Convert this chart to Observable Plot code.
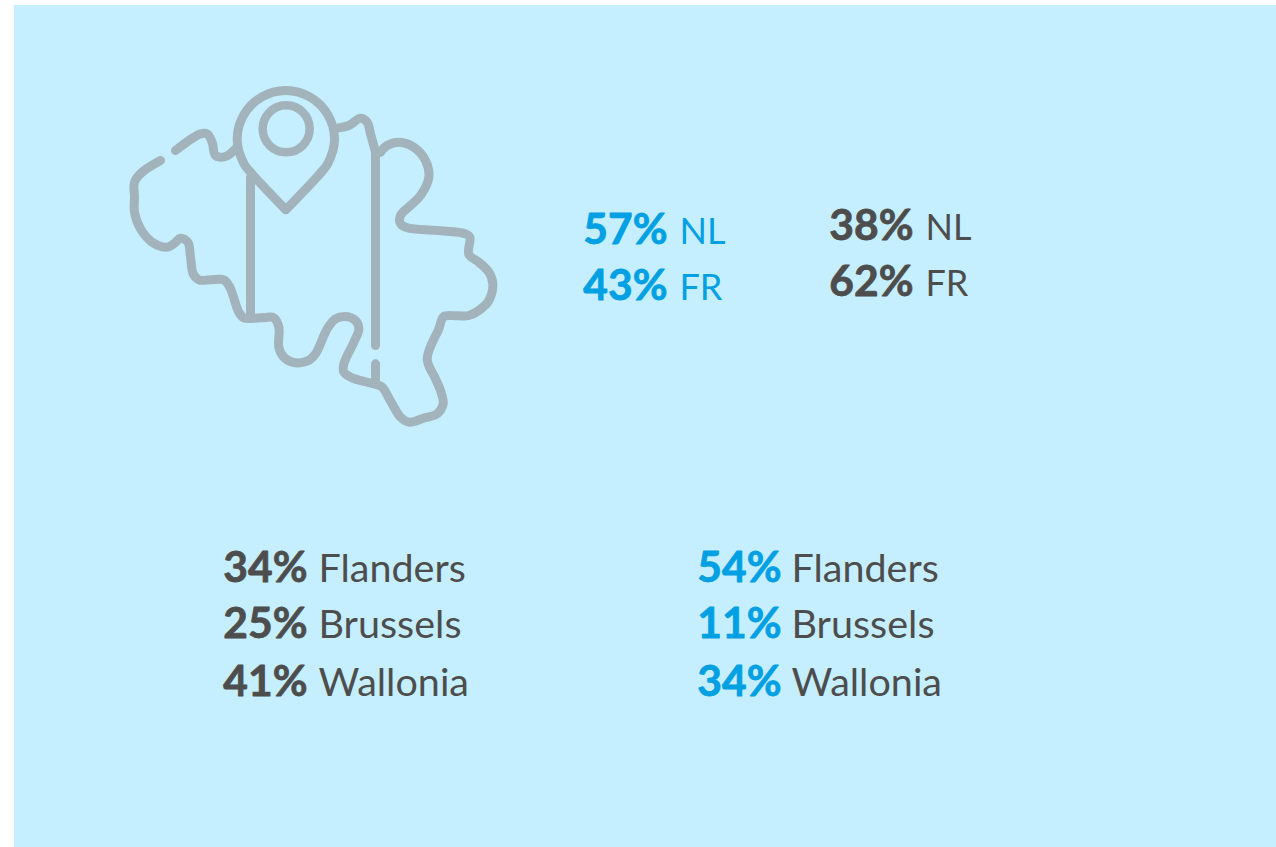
<!DOCTYPE html>
<html>
<head>
<meta charset="utf-8">
<style>html,body{margin:0;padding:0;background:#fff;overflow:hidden}svg{display:block}</style>
<script src="https://cdn.jsdelivr.net/npm/d3@7"></script>
<script src="https://cdn.jsdelivr.net/npm/@observablehq/plot@0.6"></script>
</head>
<body>
<div id="chart"></div>
<script>
// Shares
const languageLabels = ["NL", "FR"];
const languageBlue = ["57%", "43%"];
const languageGrey = ["38%", "62%"];
const regionLabels = ["Flanders", "Brussels", "Wallonia"];
const regionGrey = ["34%", "25%", "41%"];
const regionBlue = ["54%", "11%", "34%"];

// Belgium pictogram, traced in a 1200x1110 frame
const coastWest = [[150,270],[95,305],[72,335],[72,380],[72,425],[90,475],[125,515],[170,530],[190,520],[210,503],[232,515],[240,560],[248,610],[265,628],[300,628],[340,628],[358,650],[385,725],[400,742],[450,742],[490,742],[505,770],[505,830],[520,860],[545,875],[590,872],[615,850],[650,775],[675,745],[705,738],[735,750],[745,775],[730,815],[700,880],[700,905],[725,922],[762,933],[800,943],[815,950],[842,995],[870,1040],[895,1055],[940,1043],[980,1030],[998,1000],[990,960],[975,925],[950,865],[985,775],[1000,738],[1040,736],[1075,735],[1105,720],[1135,690],[1147,640],[1135,605],[1105,575],[1075,552],[1078,500],[1065,490],[980,480],[890,472],[870,460],[870,435],[900,405],[930,375],[955,320],[945,270],[910,230],[865,215],[830,225],[810,245]];
const coastNorth = [[195,240],[270,190],[290,190],[305,215],[315,255],[345,258],[375,235]];
const coastNorthEast = [[685,172],[715,165],[750,143],[770,155],[780,190],[795,245]];
const pinOutline = [[526,418],[475,365],[423,309],[400,279],[380,206],[400,133],[453,80],[526,60],[599,80],[652,133],[672,206],[652,279],[629,309],[577,365],[526,418]];
const pinEye = [[527,175]];
const stripeLeft = [[420,320],[420,740]];
const stripeRight = [[795,245],[795,825]];
const stripeShort = [[795,880],[795,940]];

const panelColor = "#c5efff", iconColor = "#a2b3bb", blue = "#00a0e3", grey = "#4d4d4d";
const iconX = d => 110 + d[0] / 3, iconY = d => 70 + d[1] / 3;

const table = (values, labels, color, labelColor, valueEnd, labelStart, baselines, labelSize) =>
  values.map((v, i) => ({value: v, label: labels[i], color, labelColor, valueEnd, labelStart, y: baselines[i], labelSize}));

const rows = [
  ...table(languageBlue, languageLabels, blue, blue, 667, 679, [243, 299], 36),
  ...table(languageGrey, languageLabels, grey, grey, 913, 925, [239, 295], 36),
  ...table(regionGrey, regionLabels, grey, grey, 307, 318, [581, 637, 695], 39.5),
  ...table(regionBlue, regionLabels, blue, grey, 781, 791, [581, 637, 695], 39.5)
];
const curvy = {x: iconX, y: iconY, stroke: iconColor, strokeWidth: 9, curve: "catmull-rom"};
const font = "Lato, Carlito, sans-serif";

const plot = Plot.plot({
  width: 1276, height: 847, margin: 0,
  style: {background: "#fff", fontFamily: font},
  x: {type: "linear", domain: [0, 1276], range: [0, 1276], axis: null},
  y: {type: "linear", domain: [0, 847], range: [0, 847], axis: null},
  marks: [
    Plot.rect([[14, 5, 1276, 847]], {x1: d => d[0], y1: d => d[1], x2: d => d[2], y2: d => d[3], fill: panelColor}),
    Plot.line(coastWest, curvy),
    Plot.line(coastNorth, curvy),
    Plot.line(coastNorthEast, curvy),
    Plot.line(pinOutline, curvy),
    Plot.line(stripeLeft, {...curvy, curve: "linear"}),
    Plot.line(stripeRight, {...curvy, curve: "linear"}),
    Plot.line(stripeShort, {...curvy, curve: "linear"}),
    Plot.dot(pinEye, {x: iconX, y: iconY, r: 23.5, stroke: iconColor, strokeWidth: 8.5, fill: "none"}),
    Plot.text(rows, {x: "valueEnd", y: "y", text: "value", fill: "color", stroke: "color", strokeWidth: 0.8, textAnchor: "end", lineAnchor: "bottom", fontWeight: 700, fontSize: 42.5, fontFamily: font}),
    Plot.text(rows, {x: "labelStart", y: "y", text: "label", fill: "labelColor", textAnchor: "start", lineAnchor: "bottom", fontSize: d => d.labelSize, fontFamily: font})
  ]
});
document.getElementById("chart").append(plot);
</script>
</body>
</html>
